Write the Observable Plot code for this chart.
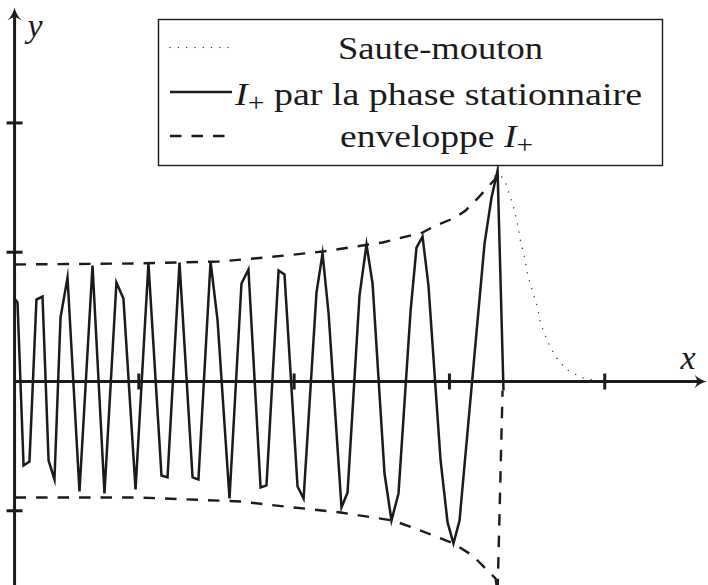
<!DOCTYPE html>
<html>
<head>
<meta charset="utf-8">
<script src="https://cdn.jsdelivr.net/npm/d3@7"></script>
<script src="https://cdn.jsdelivr.net/npm/@observablehq/plot@0.6"></script>
<style>
  html, body { margin: 0; padding: 0; background: #fff; overflow: hidden; }
  #chart svg { display: block; }
</style>
</head>
<body>
<div id="chart"></div>
<script>
// I+ par la phase stationnaire (polyligne échantillonnée)
const phaseX = [0.200, 0.219, 0.258, 0.296, 0.341, 0.380, 0.419, 0.457, 0.496, 0.541,
                0.618, 0.702, 0.779, 0.856, 0.901, 0.979, 1.062, 1.146, 1.185, 1.262,
                1.346, 1.384, 1.462, 1.507, 1.584, 1.661, 1.706, 1.784, 1.822, 1.900,
                1.938, 2.022, 2.061, 2.144, 2.183, 2.222, 2.305, 2.344, 2.421, 2.466,
                2.505, 2.582, 2.627, 2.672, 2.750, 2.788, 2.827, 2.865, 2.943, 2.988,
                3.026, 3.065, 3.226, 3.271, 3.310, 3.348];
const phaseY = [0.642, 0.611, -0.650, -0.619, 0.634, 0.657, -0.611, -0.758, 0.495, 0.804,
                -0.851, 0.897, -0.866, 0.766, 0.642, -0.835, 0.913, -0.727, -0.742, 0.920,
                -0.742, -0.758, 0.928, 0.472, -0.905, 0.758, 0.866, -0.820, -0.804, 0.858,
                0.828, -0.812, -0.905, 0.688, 0.990, 0.526, -0.974, -0.858, 0.665, 1.060,
                0.758, -0.712, -1.075, -0.866, 0.549, 1.036, 1.121, 0.742, -0.611, -1.090,
                -1.253, -1.075, 1.067, 1.423, 1.632, -0.070];

// Saute-mouton : décroissance après la caustique
const queueX = [3.361, 3.381, 3.413, 3.439, 3.458, 3.484, 3.503, 3.536, 3.567, 3.587,
                3.632, 3.683, 3.754, 3.851, 3.909, 3.973];
const queueY = [1.539, 1.469, 1.346, 1.214, 1.083, 0.959, 0.828, 0.696, 0.572, 0.449,
                0.309, 0.193, 0.093, 0.031, 0.015, 0];

// enveloppe I+ (branche haute et branche basse)
const envHautX = [0.200, 0.992, 1.513, 1.816, 2.183, 2.569, 2.827, 2.911, 3.039, 3.104, 3.187, 3.297, 3.323];
const envHautY = [0.905, 0.913, 0.928, 0.959, 1.005, 1.075, 1.152, 1.206, 1.268, 1.322, 1.423, 1.570, 2.173];
const envBasX  = [0.200, 0.992, 1.655, 1.816, 2.299, 2.634, 2.782, 3.026, 3.149, 3.232, 3.297, 3.310, 3.342];
const envBasY  = [-0.897, -0.897, -0.928, -0.951, -1.013, -1.075, -1.137, -1.253, -1.346, -1.446, -1.524, -1.632, -0.070];

// graduations (sans étiquettes)
const xTicks = [1, 2, 3, 4];
const yTicks = [-1, 1, 2];

// fenêtre et axes
const xDomain = [0.1095, 4.668];
const yDomain = [-1.578, 2.947];
const axeVertical = 0.2;      // abscisse de l'axe des y
const pointeX = 4.659;        // extrémité de la flèche de l'axe des x
const pointeY = 2.892;        // extrémité de la flèche de l'axe des y

const legendLabels = ["Saute-mouton", "par la phase stationnaire", "enveloppe"];

const ink = "#1b1b1b";
const serif = "'Liberation Serif', 'DejaVu Serif', serif";

const pts = (xs, ys) => xs.map((x, i) => ({x, y: ys[i]}));
const phase = pts(phaseX, phaseY);
const sauteMouton = phase.slice(0, -1).concat(pts(queueX, queueY));
const envHaut = pts(envHautX, envHautY);
const envBas = pts(envBasX, envBasY);

// symboles : petits traits de graduation et pointe de flèche
const traitV = {draw(c, size) { const r = Math.sqrt(size / Math.PI); c.moveTo(0, -r); c.lineTo(0, r); }};
const traitH = {draw(c, size) { const r = Math.sqrt(size / Math.PI); c.moveTo(-r, 0); c.lineTo(r, 0); }};
const fleche = {draw(c, size) {
  const k = Math.sqrt(size / Math.PI) / 7;
  c.moveTo(0, 0);
  c.bezierCurveTo(0.8 * k, 4 * k, 3 * k, 8.5 * k, 7 * k, 13 * k);
  c.bezierCurveTo(3.5 * k, 10.5 * k, 1.5 * k, 10 * k, 0, 10 * k);
  c.bezierCurveTo(-1.5 * k, 10 * k, -3.5 * k, 10.5 * k, -7 * k, 13 * k);
  c.bezierCurveTo(-3 * k, 8.5 * k, -0.8 * k, 4 * k, 0, 0);
  c.closePath();
}};

function legende() {
  const g = d3.create("svg:g").attr("font-family", serif).attr("fill", ink);
  g.append("rect").attr("x", 158.5).attr("y", 19.5).attr("width", 504).attr("height", 146)
    .attr("fill", "#fff").attr("stroke", ink).attr("stroke-width", 1.4);
  // échantillons de traits
  g.append("line").attr("x1", 170).attr("x2", 232).attr("y1", 47.5).attr("y2", 47.5)
    .attr("stroke", "#444").attr("stroke-width", 1.4).attr("stroke-linecap", "round")
    .attr("stroke-dasharray", "0.1,8.2");
  g.append("line").attr("x1", 170).attr("x2", 232).attr("y1", 92).attr("y2", 92)
    .attr("stroke", ink).attr("stroke-width", 2.4);
  g.append("line").attr("x1", 170).attr("x2", 225).attr("y1", 136).attr("y2", 136)
    .attr("stroke", ink).attr("stroke-width", 2.4).attr("stroke-dasharray", "11.5,10");
  const txt = (x, y, len) => g.append("text").attr("x", x).attr("y", y)
    .attr("text-anchor", "middle").attr("font-size", 32).style("white-space", "pre")
    .attr("textLength", len).attr("lengthAdjust", "spacingAndGlyphs");
  txt(440.5, 59, 205).text(legendLabels[0]);
  const t2 = txt(438.5, 105, 407);
  t2.append("tspan").attr("font-style", "italic").text("I");
  t2.append("tspan").attr("font-size", 25).attr("dy", 6).text("+");
  t2.append("tspan").attr("dy", -6).text(" " + legendLabels[1]);
  const t3 = txt(436.5, 147, 193);
  t3.append("tspan").text(legendLabels[2] + " ");
  t3.append("tspan").attr("font-style", "italic").text("I");
  t3.append("tspan").attr("font-size", 25).attr("dy", 6).text("+");
  return g.node();
}

const chart = Plot.plot({
  width: 708,
  height: 585,
  margin: 0,
  x: {domain: xDomain, axis: null},
  y: {domain: yDomain, axis: null},
  style: {background: "#fff"},
  marks: [
    Plot.line(sauteMouton, {x: "x", y: "y", stroke: "#444", strokeWidth: 1.4,
      strokeDasharray: "0.1,8.2", strokeLinecap: "round", clip: true}),
    Plot.line(envHaut, {x: "x", y: "y", stroke: ink, strokeWidth: 2.4,
      strokeDasharray: "11.5,10", strokeLinecap: "butt", clip: true}),
    Plot.line(envBas, {x: "x", y: "y", stroke: ink, strokeWidth: 2.4,
      strokeDasharray: "11.5,10", strokeLinecap: "butt", clip: true}),
    Plot.line(phase, {x: "x", y: "y", stroke: ink, strokeWidth: 2.5,
      strokeLinejoin: "miter", strokeMiterlimit: 10, strokeLinecap: "butt", clip: true}),
    // axes
    Plot.ruleY([0], {x1: axeVertical, x2: pointeX - 0.05, stroke: ink, strokeWidth: 3}),
    Plot.ruleX([axeVertical], {y1: yDomain[0], y2: pointeY - 0.06, stroke: ink, strokeWidth: 3}),
    Plot.dot(xTicks, {x: d => d, y: () => 0, symbol: traitV, r: 8, fill: "none",
      stroke: ink, strokeWidth: 3}),
    Plot.dot(yTicks, {x: () => axeVertical, y: d => d, symbol: traitH, r: 8, fill: "none",
      stroke: ink, strokeWidth: 3}),
    Plot.dot([pointeX], {x: d => d, y: () => 0, symbol: fleche, r: 7, rotate: 90,
      fill: ink, stroke: "none"}),
    Plot.dot([pointeY], {x: () => axeVertical, y: d => d, symbol: fleche, r: 7,
      fill: ink, stroke: "none"}),
    Plot.text(["y"], {text: d => d, frameAnchor: "top-left", dx: 27, dy: 36,
      textAnchor: "start", lineAnchor: "bottom", fontFamily: serif, fontStyle: "italic",
      fontSize: 34, fill: ink}),
    Plot.text(["x"], {text: d => d, frameAnchor: "top-left", dx: 680, dy: 368,
      textAnchor: "start", lineAnchor: "bottom", fontFamily: serif, fontStyle: "italic",
      fontSize: 34, fill: ink}),
    legende
  ]
});

document.getElementById("chart").appendChild(chart);
</script>
</body>
</html>
